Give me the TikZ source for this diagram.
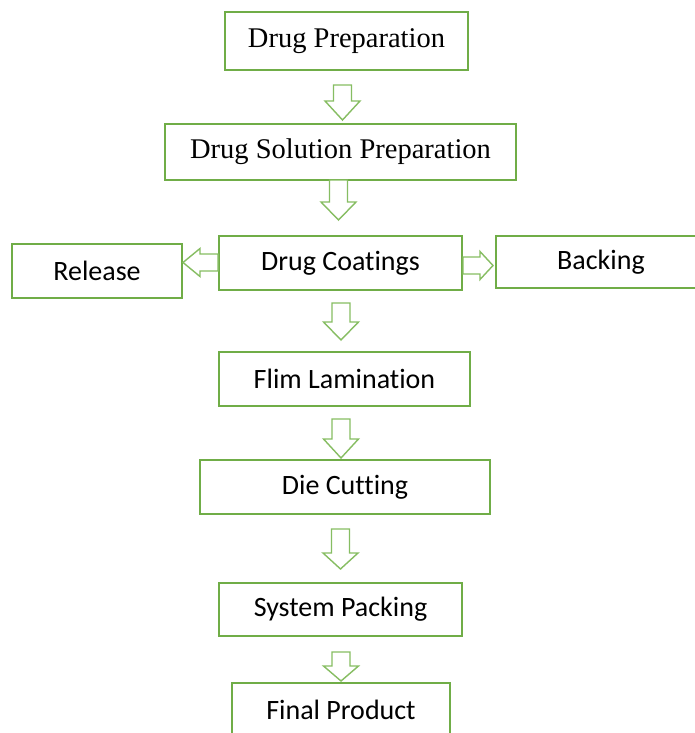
\documentclass[tikz,border=0pt]{standalone}
\usepackage{fontspec}
\setmainfont{Liberation Serif}
\newfontfamily\calfont[Ligatures={NoCommon}]{Carlito}
\usetikzlibrary{calc}
\definecolor{boxgreen}{HTML}{70AD47}
\definecolor{arrgreen}{HTML}{86BD62}
\tikzset{
  box/.style={draw=boxgreen, line width=2pt, fill=white, inner sep=0pt, align=center, font=\calfont\fontsize{28}{32}\selectfont},
  serifbox/.style={box, font=\rmfamily\fontsize{28.5}{32}\selectfont},
  blk/.style={draw=arrgreen, line width=1.4pt, line join=miter, fill=white}
}
\newcommand\dnarr[3]{%
  \draw[blk] let \p1=(#1), \p2=(#2) in
    (\x1-9pt,\y1) -- (\x1+9pt,\y1) -- (\x1+9pt,\y2+#3) -- (\x1+17.5pt,\y2+#3)
    -- (\x1,\y2) -- (\x1-17.5pt,\y2+#3) -- (\x1-9pt,\y2+#3) -- cycle;}
\newcommand\hzarr[3]{%
  \draw[blk] let \p1=(#1), \p2=(#2) in
    (\x1,\y1-8.5pt) -- (\x2+#3,\y1-8.5pt) -- (\x2+#3,\y1-14pt)
    -- (\x2,\y1) -- (\x2+#3,\y1+14pt) -- (\x2+#3,\y1+8.5pt) -- (\x1,\y1+8.5pt) -- cycle;}
\begin{document}
\begin{tikzpicture}[x=1pt, y=-1pt]
\clip (0,0) rectangle (695,733);
\fill[white] (0,0) rectangle (695,733);

\node[serifbox, minimum width=243pt, minimum height=58pt] (prep) at (346.5,41) {Drug Preparation};
\node[serifbox, minimum width=351pt, minimum height=56pt] (sol) at (340.5,152) {Drug Solution Preparation};
\node[box, minimum width=243pt, minimum height=54pt] (coat) at (340.5,263) {Drug Coatings};
\node[box, minimum width=170pt, minimum height=54pt] (rel) at (97,271) {Release};
\node[box, minimum width=210pt, minimum height=52pt] (back) at (601,262) {Backing};
\node[box, minimum width=251pt, minimum height=54pt] (lam) at (344.5,379) {Flim Lamination};
\node[box, minimum width=290pt, minimum height=54pt] (die) at (345,487) {Die Cutting};
\node[box, minimum width=243pt, minimum height=53pt] (pack) at (340.5,609.5) {System Packing};
\node[box, minimum width=218pt, minimum height=54pt] (final) at (341,710) {Final Product};

% arrow endpoints
\coordinate (a1s) at (342.5,85);  \coordinate (a1e) at (342.5,120);
\coordinate (a2s) at (338.5,180); \coordinate (a2e) at (338.5,220);
\coordinate (a3s) at (341,303);   \coordinate (a3e) at (341,340);
\coordinate (a4s) at (341,419);   \coordinate (a4e) at (341,458);
\coordinate (a5s) at (340.5,529); \coordinate (a5e) at (340.5,569);
\coordinate (a6s) at (341,652);   \coordinate (a6e) at (341,681);
\coordinate (als) at (coat.west |- 0,262.5); \coordinate (ale) at (rel.east |- 0,262.5);
\coordinate (ars) at (coat.east |- 0,265.5); \coordinate (are) at (493,265.5);

\dnarr{a1s}{a1e}{19pt}
\dnarr{a2s}{a2e}{18pt}
\dnarr{a3s}{a3e}{18pt}
\dnarr{a4s}{a4e}{19pt}
\dnarr{a5s}{a5e}{16pt}
\dnarr{a6s}{a6e}{15pt}
\hzarr{als}{ale}{17pt}
\hzarr{ars}{are}{-13pt}
\end{tikzpicture}
\end{document}
